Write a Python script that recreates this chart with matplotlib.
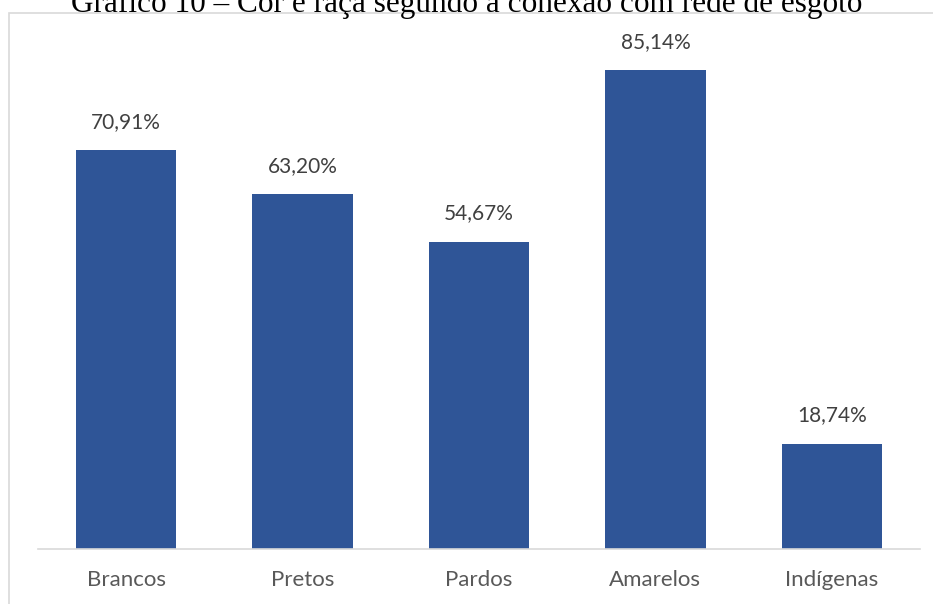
import matplotlib
matplotlib.use("Agg")
import matplotlib.pyplot as plt
from matplotlib.patches import Rectangle

# data
categorias = ["Brancos", "Pretos", "Pardos", "Amarelos", "Indígenas"]
valores = [70.91, 63.20, 54.67, 85.14, 18.74]
rotulos = ["70,91%", "63,20%", "54,67%", "85,14%", "18,74%"]
titulo = "Gráfico 10 – Cor e raça segundo a conexão com rede de esgoto"

W, H = 933, 604
fig = plt.figure(figsize=(W / 100, H / 100), dpi=100)

# moldura do grafico (so esquerda e topo aparecem)
fig.patches.append(Rectangle((9 / W, -0.1), 1.2, 1 - 13 / H + 0.1, transform=fig.transFigure,
                             fill=False, edgecolor="#d9d9d9", linewidth=1.2))

ax = fig.add_axes([38 / W, 55 / H, 882 / W, 506 / H])
x = range(len(categorias))
ax.bar(x, valores, width=0.57, color="#2F5597")
ax.set_xlim(-0.5, len(categorias) - 0.5)
ax.set_ylim(0, 90)

for i, v in enumerate(valores):
    ax.annotate(rotulos[i], (i, v), xytext=(0, 13), textcoords="offset points",
                ha="center", va="bottom", fontsize=15, color="#404040", family="Lato")

ax.set_xticks(list(x))
ax.set_xticklabels(categorias, fontsize=16, color="#595959", family="Lato")
ax.tick_params(axis="x", length=0, pad=15)
ax.set_yticks([])
for s in ["top", "right", "left"]:
    ax.spines[s].set_visible(False)
ax.spines["bottom"].set_color("#d9d9d9")
ax.spines["bottom"].set_linewidth(1.2)

fig.text(0.5, 1 - 12 / H, titulo, ha="center", va="baseline", fontsize=22.5,
         family="Liberation Serif", color="black")

fig.savefig("out.png", dpi=100)
